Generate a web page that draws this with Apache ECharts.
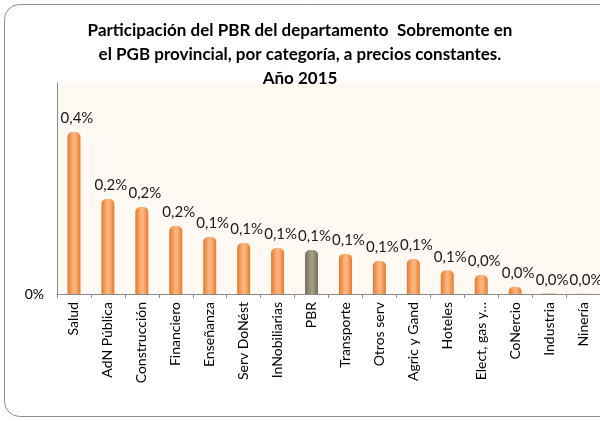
<!DOCTYPE html>
<html><head><meta charset="utf-8">
<script src="https://cdn.jsdelivr.net/npm/echarts@6/dist/echarts.min.js"></script>
<style>html,body{margin:0;padding:0;background:#fff}#c{width:600px;height:421px}</style>
</head><body><div id="c"></div>
<script>
const categories = ['Salud','AdN Pública','Construcción','Financiero','Enseñanza','Serv DoNést','InNobiliarias','PBR','Transporte','Otros serv','Agric y Gand','Hoteles','Elect, gas y…','CoNercio','Industria','Ninería'];
const values = [0.384,0.225,0.206,0.161,0.135,0.121,0.109,0.104,0.095,0.078,0.083,0.056,0.045,0.017,0.001,0.0005];
const highlightCategory = 'PBR';
const yTicks = [0, 0.5];

function grad(a,b){
  return new echarts.graphic.LinearGradient(0,0,1,0,[
    {offset:0,color:a},{offset:0.45,color:b},{offset:0.6,color:b},{offset:1,color:a}]);
}
const chart = echarts.init(document.getElementById('c'));
chart.setOption({
  animation:false,
  backgroundColor:'#fff',
  graphic:[{type:'rect',z:-1,shape:{x:4.5,y:4.5,width:640,height:412,r:15},style:{fill:'#fff',stroke:'#8c8c8c',lineWidth:1}}],
  title:{
    text:'Participación del PBR del departamento  Sobremonte en\nel PGB provincial, por categoría, a precios constantes.\nAño 2015',
    left:'center', top:14,
    textStyle:{fontFamily:'Lato',fontSize:17,fontWeight:'bold',color:'#000',lineHeight:24}
  },
  grid:{left:57,top:83,width:544,height:211,backgroundColor:'#FEF9F2',show:true,borderWidth:0},
  xAxis:{
    type:'category', data:categories,
    axisLine:{lineStyle:{color:'#8a8a8a'}},
    axisTick:{show:true,length:4,lineStyle:{color:'#8a8a8a'}},
    axisLabel:{rotate:90,margin:8,fontFamily:'Lato',fontSize:14,color:'#000',interval:0}
  },
  yAxis:{
    type:'value', min:yTicks[0], max:yTicks[1], interval:yTicks[1]-yTicks[0],
    splitLine:{show:false},
    axisLine:{show:true,lineStyle:{color:'#8a8a8a'}},
    axisTick:{show:false},
    axisLabel:{margin:13,fontFamily:'Lato',fontSize:14,color:'#000',formatter:v=>v===0?'0%':''}
  },
  series:[{
    type:'bar', barWidth:13,
    data:values.map((v,i)=>({value:v,itemStyle:{color:categories[i]===highlightCategory?grad('#746e58','#a39d86'):grad('#e37a2e','#fdb47c'),borderRadius:[5,5,0,0]}})),
    label:{show:true,position:'top',distance:6,offset:[3,0],fontFamily:'Lato',fontSize:15,color:'#1a1a1a',
      formatter:p=>p.value.toFixed(1).replace('.',',')+'%'}
  }]
});
</script></body></html>
